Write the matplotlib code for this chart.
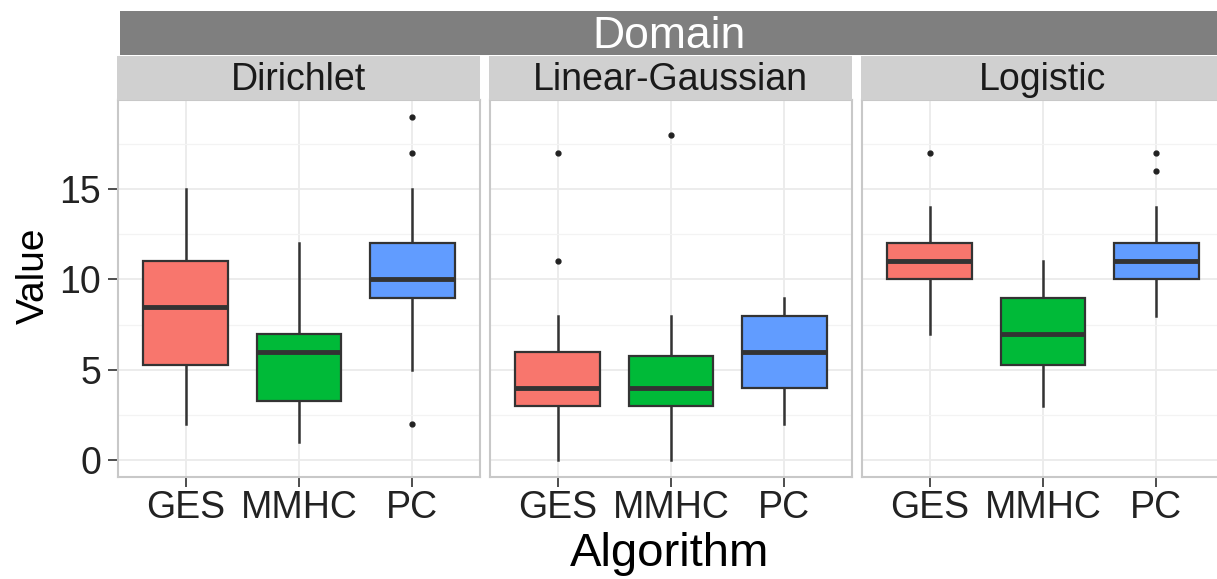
import numpy as np
import matplotlib
matplotlib.use("Agg")
import matplotlib.pyplot as plt

plt.rcParams['font.family'] = ['Liberation Sans', 'DejaVu Sans']

domains = ["Dirichlet", "Linear-Gaussian", "Logistic"]
algorithms = ["GES", "MMHC", "PC"]
colors = ["#F8766D", "#00BA38", "#619CFF"]

# box stats per domain, order GES, MMHC, PC
medians = [[8.5, 6, 10], [4, 4, 6], [11, 7, 11]]
q1 = [[5.25, 3.25, 9], [3, 3, 4], [10, 5.25, 10]]
q3 = [[11, 7, 12], [6, 5.75, 8], [12, 9, 12]]
whisk_lo = [[2, 1, 5], [0, 0, 2], [7, 3, 8]]
whisk_hi = [[15, 12, 15], [8, 8, 9], [14, 11, 14]]
outliers = [[[], [], [19, 17, 2]],
            [[17, 11], [18], []],
            [[17], [], [17, 16]]]

W, H = 1217, 579
fig = plt.figure(figsize=(W / 100, H / 100), dpi=100)

lefts = [118, 490, 862]
pw = 362
pb, pt = 477, 100

for i, dom in enumerate(domains):
    ax = fig.add_axes([lefts[i] / W, 1 - pb / H, pw / W, (pb - pt) / H])
    stats = []
    for j, alg in enumerate(algorithms):
        stats.append(dict(med=medians[i][j], q1=q1[i][j], q3=q3[i][j],
                          whislo=whisk_lo[i][j], whishi=whisk_hi[i][j],
                          fliers=outliers[i][j], label=alg))
    bp = ax.bxp(stats, positions=[1, 2, 3], widths=0.75, patch_artist=True,
                showcaps=False,
                boxprops=dict(edgecolor="#333333", linewidth=1.6),
                whiskerprops=dict(color="#333333", linewidth=1.8),
                medianprops=dict(color="#333333", linewidth=3.5),
                flierprops=dict(marker="o", markersize=3.5, markerfacecolor="#222222",
                                markeredgecolor="#222222"))
    for patch, c in zip(bp["boxes"], colors):
        patch.set_facecolor(c)
        patch.set_zorder(3)
    for k in ("whiskers", "medians", "fliers"):
        for a in bp[k]:
            a.set_zorder(4 if k != "whiskers" else 2)
    ax.set_xlim(0.4, 3.6)
    ax.set_ylim(-0.95, 19.95)
    ax.set_yticks([0, 5, 10, 15])
    ax.set_yticks([2.5, 7.5, 12.5, 17.5], minor=True)
    ax.set_xticks([1, 2, 3])
    ax.set_xticklabels(algorithms)
    ax.grid(True, which="major", color="#ebebeb", linewidth=1.3, zorder=0)
    ax.grid(True, which="minor", axis="y", color="#f3f3f3", linewidth=0.9, zorder=0)
    ax.set_axisbelow(True)
    for s in ax.spines.values():
        s.set_color("#c8c8c8")
        s.set_linewidth(1.5)
    ax.tick_params(axis="both", which="major", labelsize=27, colors="#4d4d4d",
                   length=7, width=1.4, labelcolor="#222222")
    ax.tick_params(axis="x", which="major", pad=2)
    ax.tick_params(axis="y", which="major", pad=5)
    ax.tick_params(axis="y", which="minor", length=0)
    if i > 0:
        ax.tick_params(axis="y", which="major", left=False, labelleft=False)

    # facet strip
    sax = fig.add_axes([(lefts[i] - 1) / W, 1 - 100 / H, (pw + 1) / W, 44 / H])
    sax.set_facecolor("#d0d0d0")
    sax.set_xticks([])
    sax.set_yticks([])
    for s in sax.spines.values():
        s.set_visible(False)
    sax.text(0.5, 0.45, dom, ha="center", va="center", fontsize=27,
             color="#1a1a1a", transform=sax.transAxes)

# outer "Domain" strip
dax = fig.add_axes([120 / W, 1 - 55 / H, (1217 - 120) / W, 44 / H])
dax.set_facecolor("#7f7f7f")
dax.set_xticks([])
dax.set_yticks([])
for s in dax.spines.values():
    s.set_visible(False)
dax.text(0.5, 0.42, "Domain", ha="center", va="center", fontsize=32,
         color="white", transform=dax.transAxes)

fig.text(34 / W, 1 - 276 / H, "Value", rotation=90, ha="center", va="center",
         fontsize=28)
fig.text(670 / W, 1 - 554 / H, "Algorithm", ha="center", va="center",
         fontsize=34)

fig.savefig("out.png", dpi=100)
